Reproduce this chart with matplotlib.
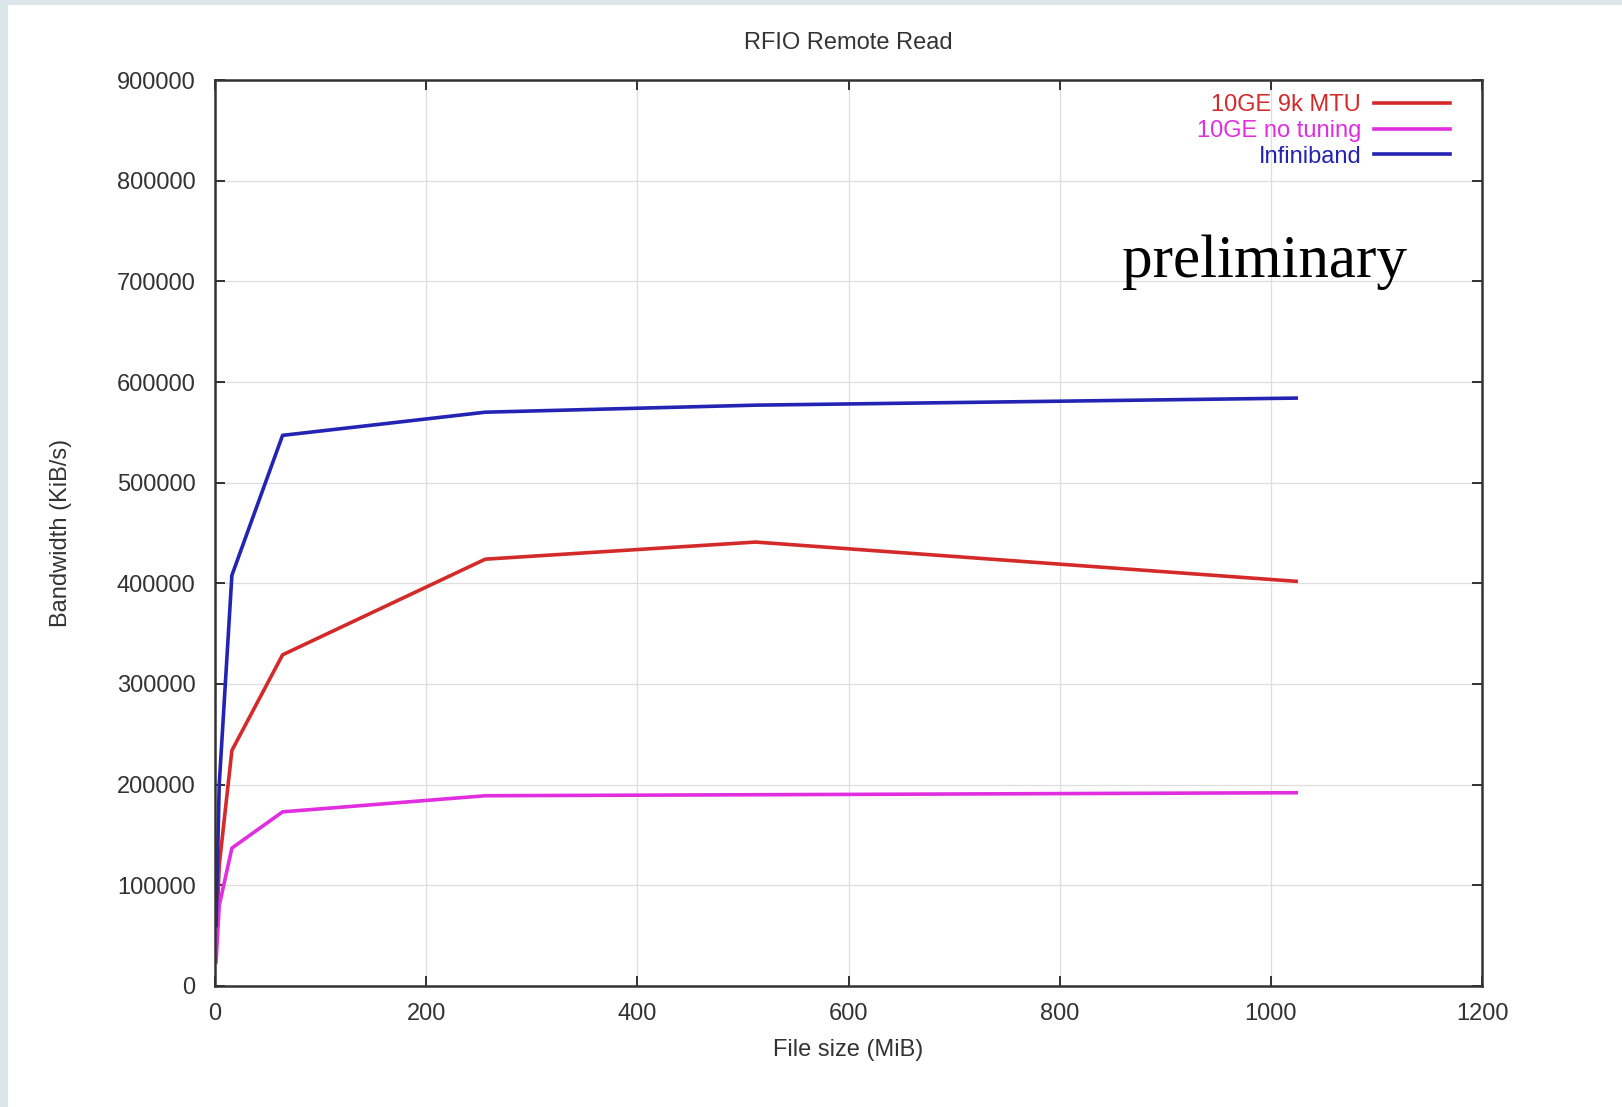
import matplotlib
matplotlib.use('Agg')
import matplotlib.pyplot as plt
from matplotlib.patches import Rectangle

# file sizes (MiB) and measured bandwidth (KiB/s)
file_size = [1, 4, 16, 64, 256, 512, 1024]
bw_9k_mtu = [40000, 120000, 234000, 329000, 424000, 441000, 402000]
bw_no_tuning = [24000, 80000, 137000, 173000, 189000, 190000, 192000]
bw_infiniband = [60000, 200000, 408000, 547000, 570000, 577000, 584000]

x_ticks = [0, 200, 400, 600, 800, 1000, 1200]
y_ticks = [0, 100000, 200000, 300000, 400000, 500000, 600000, 700000, 800000, 900000]

plt.rcParams['font.family'] = ['Liberation Sans', 'DejaVu Sans']

fig = plt.figure(figsize=(16.22, 11.07), dpi=100, facecolor='#dce5e9')
# white slide area (the screenshot has a thin bluish margin left and top)
fig.patches.append(Rectangle((8 / 1622, 0), 1, 1 - 5 / 1107, transform=fig.transFigure,
                             facecolor='white', edgecolor='none', zorder=-10))

ax = fig.add_axes([215 / 1622, 121 / 1107, 1267 / 1622, 906 / 1107])
ax.set_zorder(1)

ax.plot(file_size, bw_9k_mtu, color='#d42a2a', lw=2.6, label='10GE 9k MTU')
ax.plot(file_size, bw_no_tuning, color='#e02ee0', lw=2.6, label='10GE no tuning')
ax.plot(file_size, bw_infiniband, color='#2424b4', lw=2.6, label='Infiniband')

ax.set_xlim(0, 1200)
ax.set_ylim(0, 900000)
ax.set_xticks(x_ticks)
ax.set_yticks(y_ticks)
ax.set_yticklabels([str(v) for v in y_ticks])
ax.grid(True, color='#dedede', lw=0.9)
ax.set_axisbelow(True)

ax.tick_params(direction='in', length=7, width=1.3, top=True, right=True,
               labelsize=17, colors='#222222', labelcolor='#333333')
ax.tick_params(axis='y', pad=14)
ax.tick_params(axis='x', pad=12)
for s in ax.spines.values():
    s.set_linewidth(1.8)
    s.set_color('#333333')

ax.set_title('RFIO Remote Read', fontsize=17, color='#333333', pad=22)
ax.set_xlabel('File size (MiB)', fontsize=17, color='#333333', labelpad=10)
ax.set_ylabel('Bandwidth (KiB/s)', fontsize=17, color='#333333', labelpad=32)

leg = ax.legend(loc='upper right', bbox_to_anchor=(0.982, 0.9945), borderaxespad=0,
                frameon=False, markerfirst=False, alignment='right',
                fontsize=17, labelcolor='linecolor', handlelength=3.2,
                handletextpad=0.55, labelspacing=0.15)

ax.text(0.716, 0.783, 'preliminary', transform=ax.transAxes, fontsize=44,
        family=['Liberation Serif', 'DejaVu Serif'], color='black', va='baseline')

fig.savefig('out.png', dpi=100, facecolor=fig.get_facecolor())
